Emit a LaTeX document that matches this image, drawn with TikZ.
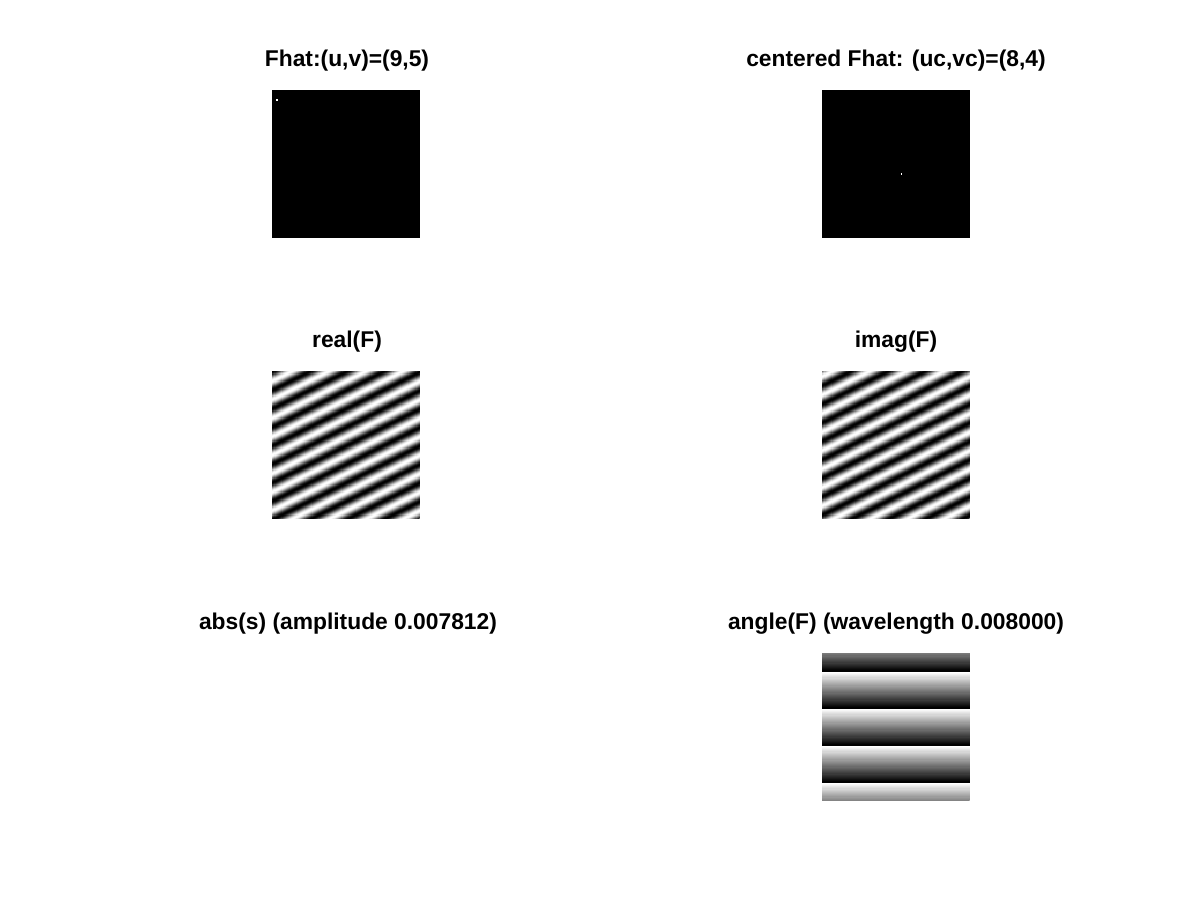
\documentclass[tikz,border=0pt]{standalone}
\usepackage{fontspec}
\setmainfont{Liberation Sans}
\usetikzlibrary{shadings}
% pixelated 128x128 images drawn as functional shadings (148bp square, 1.15625bp per image pixel)
\pgfdeclarefunctionalshading{realF}{\pgfpoint{0bp}{0bp}}{\pgfpoint{148bp}{148bp}}{}{
 148 exch sub 1.15625 div floor 22.5 mul
 exch 1.15625 div floor 11.25 mul add
 cos -0.5 mul 0.5 add dup dup
}
\pgfdeclarefunctionalshading{imagF}{\pgfpoint{0bp}{0bp}}{\pgfpoint{148bp}{148bp}}{}{
 148 exch sub 1.15625 div floor 22.5 mul
 exch 1.15625 div floor 11.25 mul add
 sin 0.5 mul 0.5 add dup dup
}
\pgfdeclarefunctionalshading{angleF}{\pgfpoint{0bp}{0bp}}{\pgfpoint{148bp}{148bp}}{}{
 exch pop 148 exch sub 1.15625 div floor
 15 exch sub 320 add cvi 32 mod cvr 31 div dup dup
}
\tikzset{
  ttl/.style={anchor=base, inner sep=0pt, font=\bfseries\fontsize{22.9}{27}\selectfont},
  img/.style={anchor=north west, inner sep=0pt, outer sep=0pt},
  blackimg/.style={fill=black},
  dot/.style={fill=white}
}
\begin{document}
\begin{tikzpicture}[x=1bp,y=-1bp]
\useasboundingbox (0,0) rectangle (1200,900);
\fill[white] (0,0) rectangle (1200,900);
% row 1
\node[ttl] (t1) at (347,66) {Fhat:(u,v)=(9,5)};
\fill[blackimg] (272,90) rectangle (420,238);
\fill[dot] (276,99) rectangle (278,101);
\node[ttl] (t2) at (896,66) {centered Fhat: (uc,vc)=(8,4)};
\fill[blackimg] (822,90) rectangle (970,238);
\fill[dot] (900.8,173) rectangle (902,175);
% row 2
\node[ttl] (t3) at (347,347) {real(F)};
\node[img] (i3) at (271.6,370.6) {\pgfuseshading{realF}};
\node[ttl] (t4) at (896,347) {imag(F)};
\node[img] (i4) at (821.6,370.6) {\pgfuseshading{imagF}};
% row 3
\node[ttl] (t5) at (348,629) {abs(s) (amplitude 0.007812)};
\node[ttl] (t6) at (896,629) {angle(F) (wavelength 0.008000)};
\node[img] (i6) at (821.6,652.6) {\pgfuseshading{angleF}};
\end{tikzpicture}
\end{document}
